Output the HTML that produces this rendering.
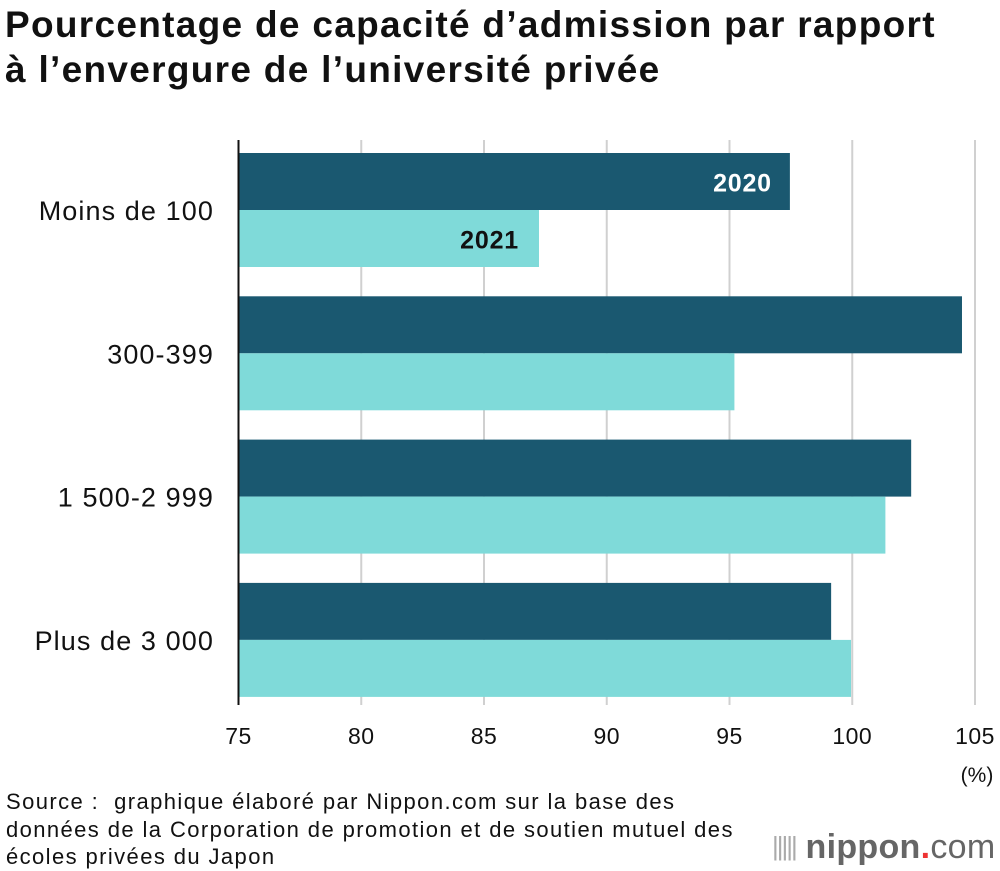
<!DOCTYPE html>
<html><head><meta charset="utf-8">
<style>
body{margin:0;background:#fff;width:1000px;height:870px;overflow:hidden;font-family:"Liberation Sans",sans-serif;}
#title{position:absolute;left:5px;top:2px;font-size:37px;font-weight:bold;line-height:45px;color:#111;letter-spacing:1.3px;white-space:nowrap}
#source{position:absolute;left:6px;top:788px;font-size:22px;line-height:27.5px;color:#111;letter-spacing:1.4px;white-space:nowrap}
#logo{position:absolute;left:772px;top:828px;font-size:34px;color:#666;font-weight:bold;letter-spacing:0.3px;white-space:nowrap}
</style></head><body>
<div id="title">Pourcentage de capacité d’admission par rapport<br>à l’envergure de l’université privée</div>
<svg id="chart" width="1000" height="870" style="position:absolute;left:0;top:0"></svg>
<div id="source">Source :&nbsp; graphique élaboré par Nippon.com sur la base des<br>données de la Corporation de promotion et de soutien mutuel des<br>écoles privées du Japon</div>
<div id="logo"><span style="font-weight:normal;font-size:26px;color:#aaa;letter-spacing:-2px;vertical-align:3px">|||||</span> nippon<span style="color:#e33">.</span><span style="font-weight:normal">com</span></div>
<script>
const categories=["Moins de 100","300-399","1 500-2 999","Plus de 3 000"];
const values2020=[97.46,104.47,102.4,99.14];
const values2021=[87.24,95.2,101.35,99.95];
const ticks=[75,80,85,90,95,100,105];
const NS="http://www.w3.org/2000/svg";
const svg=document.getElementById('chart');
const x0=238.5,pxPer=24.55,xMin=75;
const xs=v=>x0+(v-xMin)*pxPer;
const groupTop=153,groupPitch=143.3,barH=57;
function el(t,a,txt){const e=document.createElementNS(NS,t);for(const k in a)e.setAttribute(k,a[k]);if(txt!==undefined)e.textContent=txt;svg.appendChild(e);return e;}
ticks.forEach((t,i)=>{
  if(i>0){const g=el('line',{x1:xs(t),x2:xs(t),y1:140,y2:705,stroke:'#d0d0d0','stroke-width':2});
  
  }
  const l=el('text',{x:xs(t),y:744,'text-anchor':'middle','font-size':23,'letter-spacing':0.5,fill:'#111'},String(t));
  
  
});
const u=el('text',{x:977,y:782,'text-anchor':'middle','font-size':21,fill:'#111'},'(%)');


categories.forEach((c,i)=>{
  const y=groupTop+i*groupPitch;
  const b1=el('rect',{x:x0,y:y,width:xs(values2020[i])-x0,height:barH,fill:'#1a5870'});
  
  
  const b2=el('rect',{x:x0,y:y+barH,width:xs(values2021[i])-x0,height:barH,fill:'#7fdad9'});
  
  
  const l=el('text',{x:214,y:y+barH+10,'text-anchor':'end','font-size':27,'letter-spacing':1.1,fill:'#111'},c);
  
  
  if(i===0){
    const a=el('text',{x:xs(values2020[i])-18,y:y+barH/2+10,'text-anchor':'end','font-size':25,'font-weight':'bold','letter-spacing':0.8,fill:'#fff'},'2020');
    
    
    const b=el('text',{x:xs(values2021[i])-20,y:y+barH+barH/2+10,'text-anchor':'end','font-size':25,'font-weight':'bold','letter-spacing':0.8,fill:'#111'},'2021');
    
    
  }
});
const ax=el('line',{x1:x0,x2:x0,y1:140,y2:705,stroke:'#111','stroke-width':2});


</script>
</body></html>
